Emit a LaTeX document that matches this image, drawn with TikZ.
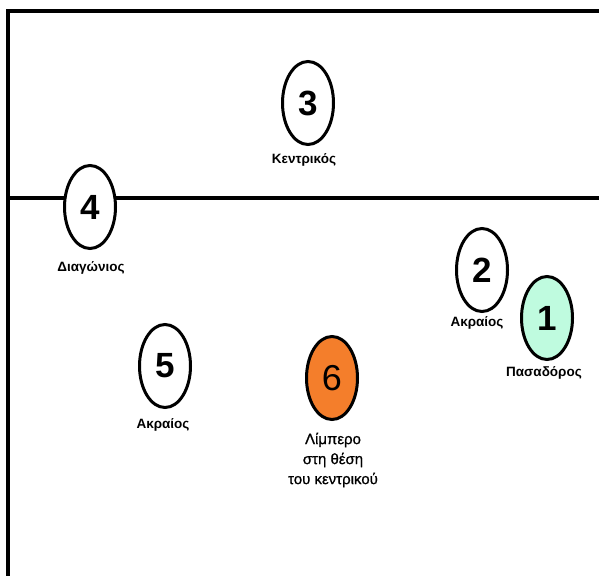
\documentclass[tikz,border=0pt]{standalone}
\usepackage{fontspec}
\setmainfont{Liberation Sans}
\newfontfamily\medfont[FakeBold=0.9]{Liberation Sans}
\usetikzlibrary{shapes.geometric}
\definecolor{mint}{HTML}{BFFBDF}
\definecolor{libero}{HTML}{F47E2B}
\tikzset{
  player/.style={ellipse, draw=black, line width=3pt, fill=white,
    minimum width=51pt, minimum height=83pt, inner sep=0pt,
    font=\fontsize{35}{35}\selectfont\bfseries},
  role/.style={font=\fontsize{13.5}{20}\selectfont\bfseries, align=center, inner sep=0pt},
  note/.style={font=\fontsize{15}{20}\selectfont\medfont, align=center, inner sep=0pt},
}
\begin{document}
\begin{tikzpicture}[x=1pt,y=-1pt]
  \useasboundingbox (0,0) rectangle (599,576);
  % court outline and attack line
  \coordinate (tl) at (8,11);
  \coordinate (tr) at (599,11);
  \coordinate (bl) at (8,576);
  \coordinate (ml) at (8,198);
  \coordinate (mr) at (599,198);
  \draw[line width=4pt] (tr) -- (tl) -- (bl);
  \draw[line width=3.5pt] (ml) -- (mr);
  % players
  \node[player] (p3) at (308,103) {3};
  \node[player] (p4) at (90,207) {4};
  \node[player] (p2) at (482,270) {2};
  \node[player, fill=mint] (p1) at (547,318) {1};
  \node[player] (p5) at (165,366) {5};
  \node[player, fill=libero, font=\fontsize{36}{36}\selectfont] (p6) at (332,378) {6};
  % roles
  \node[role] (r3) at (304,160) {Κεντρικός};
  \node[role] (r4) at (91,268) {Διαγώνιος};
  \node[role] (r2) at (477,323) {Ακραίος};
  \node[role] (r1) at (544,373) {Πασαδόρος};
  \node[role] (r5) at (163,425) {Ακραίος};
  \node[note] (r6) at (333,460) {Λίμπερο\\στη θέση\\του κεντρικού};
\end{tikzpicture}
\end{document}
